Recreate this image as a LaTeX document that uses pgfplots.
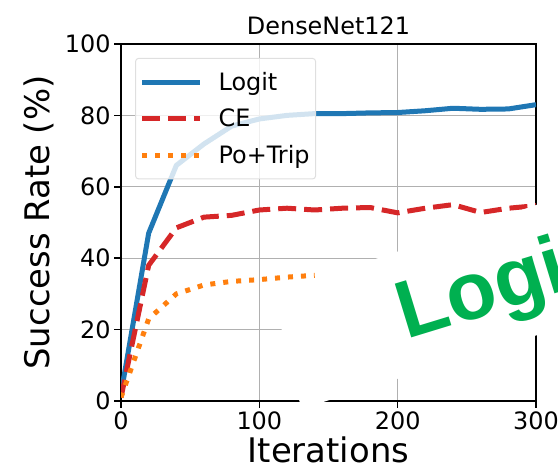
\documentclass[border=0pt]{standalone}
\usepackage{fontspec}
\setmainfont{DejaVu Sans}
\newfontfamily\logifont{Liberation Sans}
\usepackage{pgfplots}
\pgfplotsset{compat=1.18}
\definecolor{mblue}{HTML}{1F77B4}
\definecolor{mred}{HTML}{D62728}
\definecolor{morange}{HTML}{FF7F0E}
\definecolor{mgreen}{HTML}{00B050}
\definecolor{mgrid}{HTML}{B0B0B0}
\begin{document}
\begin{tikzpicture}[x=1bp,y=1bp]
\begin{scope}
\clip (0,0) rectangle (558,475);
\begin{axis}[
  at={(121bp,74bp)}, anchor=south west, scale only axis,
  width=415bp, height=357bp,
  xmin=0, xmax=300, ymin=0, ymax=100,
  xtick={0,100,200,300}, ytick={0,20,40,60,80,100},
  grid=major, major grid style={mgrid, line width=1bp},
  axis line style={line width=1.5bp},
  tick style={black, line width=1.5bp}, major tick length=7bp,
  tick align=outside, tick pos=left,
  /pgf/number format/assume math mode=true,
  tick label style={font=\fontsize{24}{29}\selectfont},
  title={DenseNet121},
  title style={font=\fontsize{24}{29}\selectfont, yshift=0bp},
  xlabel={Iterations},
  ylabel={Success Rate (\%)},
  xlabel style={font=\fontsize{34}{40}\selectfont},
  ylabel style={font=\fontsize{34}{40}\selectfont, yshift=4bp},
  legend style={at={(0.034,0.961)}, anchor=north west,
    font=\fontsize{24}{29}\selectfont, fill=white, fill opacity=0.8,
    text opacity=1, draw=gray!25, rounded corners=3bp, line width=1bp,
    row sep=13bp, inner xsep=4bp, inner ysep=12bp,
    /tikz/every odd column/.append style={column sep=14bp}},
  legend cell align=left,
  legend image code/.code={\draw[#1] (0bp,0bp) -- (58bp,0bp);},
]
\addplot[mblue, line width=5bp, line join=round] coordinates {
(0,2)(20,47)(40,66)(60,72)(80,77)(100,79)(120,80)(140,80.5)(160,80.5)
(180,80.7)(200,80.8)(220,81.3)(240,82)(260,81.7)(280,81.8)(300,83)};
\addlegendentry{Logit}
\addplot[mred, line width=5bp, line join=round, dash pattern=on 18bp off 8bp] coordinates {
(0,1)(20,38)(40,48.5)(60,51.5)(80,52)(100,53.5)(120,54)(140,53.5)(160,54)
(180,54.2)(200,52.7)(220,54)(240,55)(260,52.8)(280,54)(300,54.7)};
\addlegendentry{CE}
\addplot[morange, line width=5bp, line join=round, dash pattern=on 5bp off 8bp] coordinates {
(0,1)(20,23)(40,30)(60,32.5)(80,33.5)(100,34)(120,34.7)(140,35.2)};
\addlegendentry{Po+Trip}
\end{axis}
\fill[white] (280,143) -- (300,72) -- (320,72) -- (560,147) -- (560,278) -- (316,196) -- cycle;
\node[rotate=17, anchor=base west, inner sep=0, text=mgreen,
  font=\logifont\bfseries\fontsize{82}{82}\selectfont] at (406.4,135.3) {Logit};
\end{scope}
\pgfresetboundingbox
\path[use as bounding box] (0,0) rectangle (558,475);
\end{tikzpicture}
\end{document}
